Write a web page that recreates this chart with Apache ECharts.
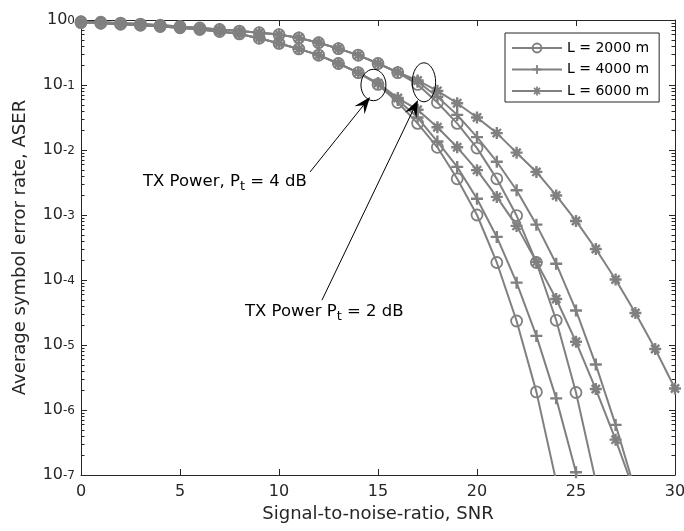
<!DOCTYPE html>
<html><head><meta charset="utf-8">
<script src="https://cdn.jsdelivr.net/npm/echarts@6/dist/echarts.min.js"></script>
<style>html,body{margin:0;padding:0;background:#fff}#c{width:684px;height:531px}</style>
</head><body><div id="c"></div>
<script>
// ---------- data ----------
const snr = [0,1,2,3,4,5,6,7,8,9,10,11,12,13,14,15,16,17,18,19,20,21,22,23,24,25,26,27,28,29,30];

// TX power Pt = 4 dB (left bundle)
const aser_L2000_Pt4 = [0.912,0.891,0.863,0.832,0.794,0.759,0.716,0.668,0.610,0.525,0.437,0.359,0.288,0.214,0.155,0.102,0.0537,0.0257,0.011,3.6e-3,1.0e-3,1.86e-4,2.34e-5,1.9e-6,8e-8,null,null,null,null,null,null];
const aser_L4000_Pt4 = [0.912,0.891,0.863,0.832,0.794,0.759,0.716,0.668,0.610,0.525,0.437,0.359,0.288,0.214,0.155,0.105,0.0589,0.0316,0.0135,5.5e-3,1.78e-3,4.6e-4,9.1e-5,1.38e-5,1.51e-6,1.1e-7,6e-9,null,null,null,null];
const aser_L6000_Pt4 = [0.912,0.891,0.863,0.832,0.794,0.759,0.716,0.668,0.610,0.525,0.437,0.359,0.288,0.214,0.155,0.107,0.063,0.0417,0.0224,0.011,4.9e-3,1.9e-3,6.8e-4,1.9e-4,5.1e-5,1.12e-5,2.1e-6,3.5e-7,5e-8,null,null];

// TX power Pt = 2 dB (right bundle)
const aser_L2000_Pt2 = [0.942,0.923,0.895,0.867,0.832,0.794,0.755,0.716,0.676,0.638,0.596,0.531,0.447,0.363,0.288,0.214,0.155,0.102,0.0537,0.0257,0.0107,3.6e-3,9.8e-4,1.86e-4,2.4e-5,1.86e-6,8e-8,null,null,null,null];
const aser_L4000_Pt2 = [0.942,0.923,0.895,0.867,0.832,0.794,0.755,0.716,0.676,0.638,0.596,0.531,0.447,0.363,0.288,0.214,0.156,0.112,0.066,0.0347,0.0158,6.6e-3,2.4e-3,7.1e-4,1.78e-4,3.4e-5,5.0e-6,5.9e-7,5.6e-8,null,null];
const aser_L6000_Pt2 = [0.942,0.923,0.895,0.867,0.832,0.794,0.755,0.716,0.676,0.638,0.596,0.531,0.447,0.363,0.288,0.214,0.158,0.1175,0.0813,0.0525,0.0316,0.0182,9.1e-3,4.6e-3,2.0e-3,8.1e-4,3.0e-4,1.02e-4,3.1e-5,8.7e-6,2.14e-6];

const legendNames = ['L = 2000 m','L = 4000 m','L = 6000 m'];
const yTickExponents = ['0','-1','-2','-3','-4','-5','-6','-7'];
const xTitle = 'Signal-to-noise-ratio, SNR';
const yTitle = 'Average symbol error rate, ASER';

// annotation anchors in data coordinates [snr, aser]
const ellipsePt4 = [14.77, 0.1];
const ellipsePt2 = [17.32, 0.110];
const arrowPt4 = {from:[11.57, 4.6e-3], to:[14.6, 0.0653]};
const arrowPt2 = {from:[12.17, 4.9e-5], to:[17.02, 0.0589]};
const textPt4 = [3.13, 3.1e-3];
const textPt2 = [8.28, 3.1e-5];

// ---------- chart ----------
const F = 'DejaVu Sans';
const GRAY = '#808080';
const AX = '#262626';
const PLUS = 'path://M8,0H12V20H8Z M0,8H20V12H0Z';
const STAR = 'path://M8,0H12V20H8Z M0,8H20V12H0Z M4.59,1.76L18.24,15.41L15.41,18.24L1.76,4.59Z M18.24,4.59L4.59,18.24L1.76,15.41L15.41,1.76Z';

const pair = (arr) => snr.map((x, i) => [x, arr[i]]);

function mkSeries(name, arr, kind) {
  const s = {
    type: 'line', name: name, data: pair(arr),
    lineStyle: {color: GRAY, width: 2},
    emphasis: {disabled: true},
    animation: false,
    z: 3
  };
  if (kind === 'o') {
    s.symbol = 'circle'; s.symbolSize = 11;
    s.itemStyle = {color: 'rgba(255,255,255,0)', borderColor: GRAY, borderWidth: 1.8};
  } else if (kind === '+') {
    s.symbol = PLUS; s.symbolSize = 12;
    s.itemStyle = {color: GRAY, borderWidth: 0};
  } else {
    s.symbol = STAR; s.symbolSize = 12;
    s.itemStyle = {color: GRAY, borderWidth: 0};
  }
  return s;
}

const minorTicks = [];
for (let k = -7; k < 0; k++) for (let m = 2; m <= 9; m++) minorTicks.push([0, m * Math.pow(10, k)]);

const axisCommon = {
  axisLine: {show: true, onZero: false, lineStyle: {color: AX, width: 1}},
  axisTick: {show: true, inside: true, length: 6, lineStyle: {color: AX, width: 1}},
  splitLine: {show: false}
};

const chart = echarts.init(document.getElementById('c'), null, {renderer: 'canvas'});
chart.setOption({
  animation: false,
  backgroundColor: '#fff',
  grid: {left: 81, right: 9, top: 20, bottom: 56, containLabel: false, outerBoundsMode: 'none'},
  legend: {
    data: legendNames, orient: 'vertical', left: 505, top: 33,
    padding: [7, 10, 3, 6], itemWidth: 50, itemHeight: 11, itemGap: 5.5,
    borderColor: AX, borderWidth: 1, backgroundColor: '#fff',
    textStyle: {fontFamily: F, fontSize: 14, color: '#000', lineHeight: 16},
    selectedMode: false
  },
  xAxis: [
    Object.assign({}, axisCommon, {
      type: 'value', min: 0, max: 30, interval: 5, position: 'bottom',
      axisLabel: {margin: 9, fontSize: 16, fontFamily: F, color: AX},
      name: xTitle, nameLocation: 'middle', nameGap: 27,
      nameTextStyle: {fontSize: 18, fontFamily: F, color: AX}
    }),
    Object.assign({}, axisCommon, {
      type: 'value', min: 0, max: 30, interval: 5, position: 'top',
      axisLabel: {show: false}
    })
  ],
  yAxis: [
    Object.assign({}, axisCommon, {
      type: 'log', logBase: 10, min: 1e-7, max: 1, splitNumber: 7, position: 'left',
      axisLabel: {
        margin: 6, color: AX, fontFamily: F,
        formatter: (v) => '{b|10}{e|' + yTickExponents[Math.round(-Math.log10(v))] + '}',
        rich: {
          b: {fontSize: 16, lineHeight: 16, verticalAlign: 'bottom', fontFamily: F, color: AX},
          e: {fontSize: 12, lineHeight: 11, padding: [2.5, 0, 8.5, 0], verticalAlign: 'top', fontFamily: F, color: AX}
        }
      },
      name: yTitle, nameLocation: 'middle', nameGap: 52, nameRotate: 90,
      nameTextStyle: {fontSize: 18, fontFamily: F, color: AX}
    }),
    Object.assign({}, axisCommon, {
      type: 'log', logBase: 10, min: 1e-7, max: 1, splitNumber: 7, position: 'right',
      axisLabel: {show: false}
    })
  ],
  series: [
    mkSeries(legendNames[0], aser_L2000_Pt4, 'o'),
    mkSeries(legendNames[1], aser_L4000_Pt4, '+'),
    mkSeries(legendNames[2], aser_L6000_Pt4, '*'),
    mkSeries(legendNames[0], aser_L2000_Pt2, 'o'),
    mkSeries(legendNames[1], aser_L4000_Pt2, '+'),
    mkSeries(legendNames[2], aser_L6000_Pt2, '*'),
    {
      type: 'custom', silent: true, data: minorTicks, z: 2,
      renderItem: function (params, api) {
        const v = api.value(1);
        const l = api.coord([0, v]);
        const r = api.coord([30, v]);
        const y = Math.round(l[1]) + 0.5;
        return {type: 'group', children: [
          {type: 'line', shape: {x1: l[0], y1: y, x2: l[0] + 3.5, y2: y}, style: {stroke: AX, lineWidth: 1}},
          {type: 'line', shape: {x1: r[0] - 3.5, y1: y, x2: r[0], y2: y}, style: {stroke: AX, lineWidth: 1}}
        ]};
      }
    }
  ]
});

// ---------- annotations anchored in data coordinates ----------
const toPx = (pt) => chart.convertToPixel({xAxisIndex: 0, yAxisIndex: 0}, pt);

function arrow(a) {
  const p0 = toPx(a.from), p1 = toPx(a.to);
  const dx = p1[0] - p0[0], dy = p1[1] - p0[1];
  const len = Math.sqrt(dx * dx + dy * dy);
  const ux = dx / len, uy = dy / len, nx = -uy, ny = ux;
  const L = 17, W = 6.5;
  const notch = [p1[0] - ux * L * 0.62, p1[1] - uy * L * 0.62];
  return [
    {type: 'line', shape: {x1: p0[0], y1: p0[1], x2: notch[0], y2: notch[1]}, style: {stroke: '#000', lineWidth: 1}, z: 10},
    {type: 'polygon', shape: {points: [
      [p1[0], p1[1]],
      [p1[0] - ux * L + nx * W, p1[1] - uy * L + ny * W],
      notch,
      [p1[0] - ux * L - nx * W, p1[1] - uy * L - ny * W]
    ]}, style: {fill: '#000'}, z: 10}
  ];
}
function ellipse(c, rx, ry) {
  const p = toPx(c);
  return {type: 'ellipse', shape: {cx: p[0], cy: p[1], rx: rx, ry: ry}, style: {fill: 'none', stroke: '#000', lineWidth: 1}, z: 10};
}
function label(c, before, after) {
  const p = toPx(c);
  return {
    type: 'text', x: p[0], y: p[1] - 10, z: 10,
    style: {
      text: '{n|' + before + '}{s|t}{n|' + after + '}',
      align: 'left', verticalAlign: 'top',
      rich: {
        n: {fontSize: 16.5, fontFamily: F, fill: '#000', lineHeight: 20, verticalAlign: 'top'},
        s: {fontSize: 13, fontFamily: F, fill: '#000', lineHeight: 13, padding: [12.5, 0, 0, 0], verticalAlign: 'bottom'}
      }
    }
  };
}

chart.setOption({
  graphic: [
    ellipse(ellipsePt4, 12.5, 15.7),
    ellipse(ellipsePt2, 11.7, 19.5),
    ...arrow(arrowPt4),
    ...arrow(arrowPt2),
    label(textPt4, 'TX Power, P', ' = 4 dB'),
    label(textPt2, 'TX Power P', ' = 2 dB')
  ]
});
</script>
</body></html>
